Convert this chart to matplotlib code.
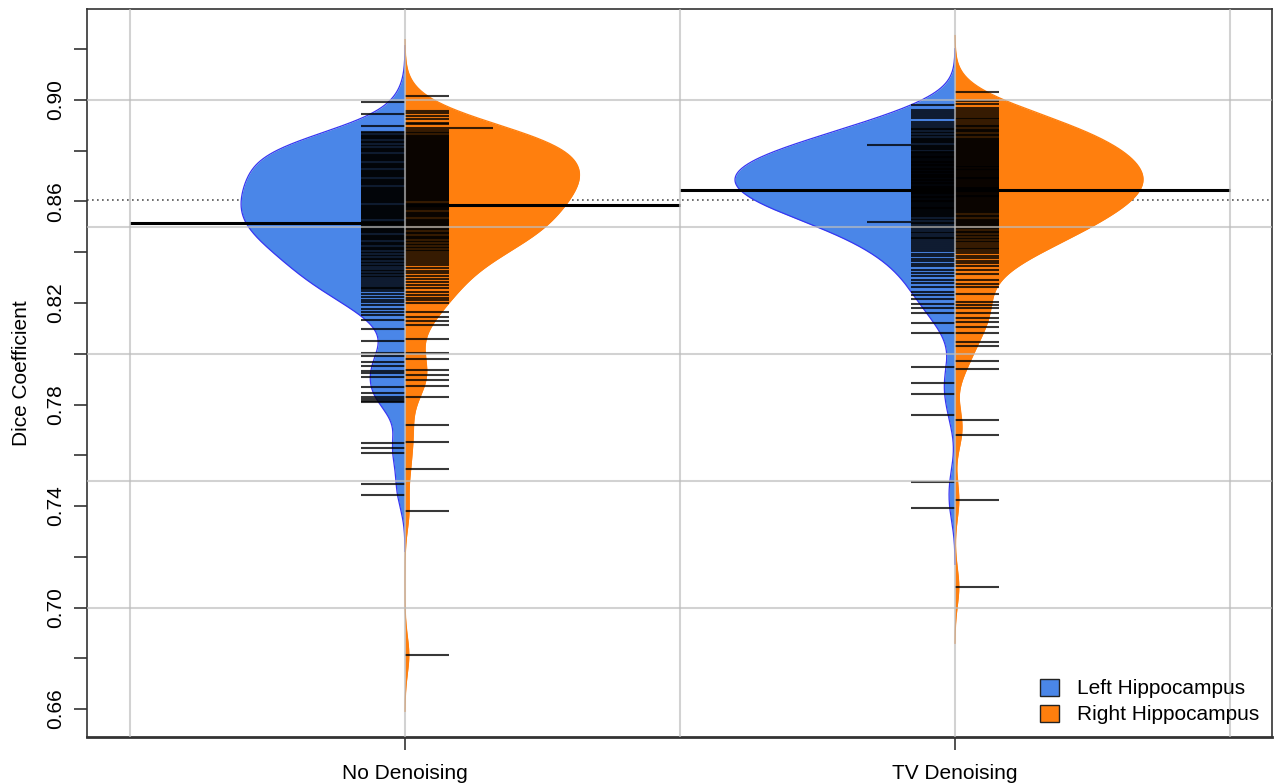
import numpy as np
import matplotlib
matplotlib.use("Agg")
import matplotlib.pyplot as plt
from matplotlib.patches import Patch

plt.rcParams['font.family'] = ['Liberation Sans', 'DejaVu Sans']

groups = ["No Denoising", "TV Denoising"]
sides = ["Left Hippocampus", "Right Hippocampus"]
fill_colors = ["#4A86E8", "#FF7F0E"]
edge_colors = ["#3636F2", "#FF7F0E"]

# Dice values (dense middle part estimated from bean width)
no_den_left = [
    0.8992, 0.8945, 0.8898,
    0.8873, 0.8868, 0.8861, 0.8857, 0.8853,
    0.8849, 0.8845, 0.8839, 0.8834, 0.8829, 0.8823, 0.8818, 0.8812, 0.8807, 0.8802,
    0.8798, 0.8794, 0.8789, 0.8785, 0.8780, 0.8775, 0.8771, 0.8766, 0.8762, 0.8758, 0.8753,
    0.8748, 0.8744, 0.8740, 0.8735, 0.8731, 0.8726, 0.8721, 0.8717, 0.8712, 0.8708, 0.8703,
    0.8699, 0.8695, 0.8690, 0.8686, 0.8682, 0.8677, 0.8673, 0.8668, 0.8664, 0.8659, 0.8655, 0.8651,
    0.8647, 0.8643, 0.8638, 0.8634, 0.8629, 0.8625, 0.8621, 0.8616, 0.8612, 0.8608, 0.8604, 0.8601,
    0.8597, 0.8593, 0.8588, 0.8584, 0.8580, 0.8575, 0.8571, 0.8566, 0.8562, 0.8558, 0.8554, 0.8551,
    0.8547, 0.8543, 0.8538, 0.8534, 0.8530, 0.8525, 0.8521, 0.8516, 0.8512, 0.8508, 0.8504, 0.8501,
    0.8496, 0.8492, 0.8487, 0.8483, 0.8478, 0.8474, 0.8469, 0.8465, 0.8460, 0.8456, 0.8452,
    0.8447, 0.8442, 0.8437, 0.8432, 0.8427, 0.8422, 0.8417, 0.8412, 0.8407, 0.8402,
    0.8396, 0.8391, 0.8385, 0.8379, 0.8374, 0.8368, 0.8362, 0.8356, 0.8351,
    0.8345, 0.8339, 0.8332, 0.8326, 0.8319, 0.8313, 0.8306, 0.8301,
    0.8294, 0.8286, 0.8278, 0.8271, 0.8263, 0.8259, 0.8255,
    0.8246, 0.8235, 0.8224, 0.8213, 0.8203,
    0.8192, 0.8178, 0.8164,
    0.8153, 0.8133, 0.8098, 0.8050, 0.8003, 0.7990, 0.7967, 0.7950, 0.7932, 0.7925,
    0.7910, 0.7869, 0.7845, 0.7830, 0.7822, 0.7815, 0.7808, 0.7648, 0.7629, 0.7610,
    0.7487, 0.7443,
]
no_den_right = [
    0.9016, 0.8957, 0.8950,
    0.8935, 0.8925, 0.8910, 0.8905,
    0.8888, 0.8888, 0.8880, 0.8874, 0.8869, 0.8863, 0.8858, 0.8853, 0.8851,
    0.8848, 0.8844, 0.8840, 0.8836, 0.8832, 0.8828, 0.8824, 0.8820, 0.8816, 0.8812, 0.8807, 0.8802,
    0.8798, 0.8794, 0.8790, 0.8786, 0.8782, 0.8778, 0.8774, 0.8770, 0.8766, 0.8762, 0.8758, 0.8754, 0.8751,
    0.8747, 0.8743, 0.8739, 0.8735, 0.8731, 0.8727, 0.8723, 0.8719, 0.8715, 0.8711, 0.8707, 0.8704, 0.8701,
    0.8697, 0.8693, 0.8689, 0.8685, 0.8681, 0.8677, 0.8673, 0.8669, 0.8665, 0.8661, 0.8657, 0.8654, 0.8651,
    0.8646, 0.8642, 0.8638, 0.8634, 0.8630, 0.8626, 0.8621, 0.8617, 0.8613, 0.8609, 0.8605, 0.8601,
    0.8596, 0.8592, 0.8587, 0.8583, 0.8578, 0.8574, 0.8569, 0.8565, 0.8560, 0.8556, 0.8552,
    0.8546, 0.8542, 0.8537, 0.8533, 0.8528, 0.8524, 0.8519, 0.8515, 0.8510, 0.8506, 0.8502,
    0.8496, 0.8491, 0.8486, 0.8481, 0.8476, 0.8471, 0.8466, 0.8461, 0.8456, 0.8452,
    0.8446, 0.8440, 0.8434, 0.8428, 0.8422, 0.8416, 0.8410, 0.8404,
    0.8397, 0.8389, 0.8381, 0.8373, 0.8365, 0.8357,
    0.8348, 0.8338, 0.8328, 0.8318, 0.8308,
    0.8296, 0.8284, 0.8272, 0.8260,
    0.8245, 0.8233, 0.8221, 0.8210,
    0.8200, 0.8165, 0.8145, 0.8130, 0.8115, 0.8058, 0.8003, 0.7980, 0.7935, 0.7915,
    0.7895, 0.7873, 0.7830, 0.7719, 0.7652, 0.7546, 0.7380, 0.6813,
]
tv_left = [
    0.8980, 0.8962, 0.8953,
    0.8945, 0.8937, 0.8928, 0.8915, 0.8905,
    0.8897, 0.8891, 0.8886, 0.8880, 0.8874, 0.8869, 0.8863, 0.8857, 0.8852,
    0.8847, 0.8843, 0.8838, 0.8834, 0.8829, 0.8823, 0.8823, 0.8818, 0.8814, 0.8809, 0.8805, 0.8801,
    0.8797, 0.8794, 0.8790, 0.8787, 0.8784, 0.8780, 0.8777, 0.8774, 0.8770, 0.8767, 0.8764, 0.8760,
    0.8757, 0.8754, 0.8751,
    0.8748, 0.8745, 0.8742, 0.8739, 0.8736, 0.8733, 0.8730, 0.8727, 0.8724, 0.8721, 0.8718, 0.8715,
    0.8712, 0.8709, 0.8706, 0.8703, 0.8701,
    0.8698, 0.8695, 0.8692, 0.8689, 0.8686, 0.8683, 0.8680, 0.8677, 0.8674, 0.8671, 0.8668, 0.8665,
    0.8662, 0.8659, 0.8656, 0.8653, 0.8651,
    0.8648, 0.8645, 0.8642, 0.8639, 0.8635, 0.8632, 0.8629, 0.8626, 0.8622, 0.8619, 0.8616, 0.8613,
    0.8609, 0.8606, 0.8603, 0.8601,
    0.8597, 0.8594, 0.8590, 0.8587, 0.8583, 0.8580, 0.8576, 0.8573, 0.8569, 0.8566, 0.8562, 0.8559,
    0.8555, 0.8552,
    0.8547, 0.8542, 0.8537, 0.8532, 0.8527, 0.8520, 0.8520, 0.8515, 0.8510, 0.8505, 0.8501,
    0.8494, 0.8488, 0.8481, 0.8475, 0.8468, 0.8462, 0.8456, 0.8451,
    0.8444, 0.8436, 0.8428, 0.8420, 0.8412, 0.8404,
    0.8395, 0.8385, 0.8375, 0.8365, 0.8355,
    0.8345, 0.8332, 0.8320, 0.8307,
    0.8290, 0.8280, 0.8265,
    0.8245, 0.8230, 0.8215,
    0.8195, 0.8180,
    0.8160, 0.8120, 0.8080, 0.7948, 0.7885, 0.7841, 0.7759, 0.7495, 0.7392,
]
tv_right = [
    0.9032, 0.8996, 0.8985, 0.8970, 0.8960,
    0.8952, 0.8945, 0.8938, 0.8931, 0.8924, 0.8917, 0.8910, 0.8903,
    0.8897, 0.8892, 0.8887, 0.8882, 0.8877, 0.8872, 0.8867, 0.8862, 0.8857, 0.8852,
    0.8848, 0.8844, 0.8840, 0.8836, 0.8832, 0.8828, 0.8824, 0.8820, 0.8816, 0.8812, 0.8807, 0.8802,
    0.8798, 0.8794, 0.8790, 0.8786, 0.8782, 0.8778, 0.8774, 0.8770, 0.8766, 0.8762, 0.8758, 0.8754, 0.8751,
    0.8748, 0.8744, 0.8741, 0.8737, 0.8734, 0.8730, 0.8727, 0.8723, 0.8720, 0.8716, 0.8712, 0.8709,
    0.8705, 0.8702,
    0.8698, 0.8694, 0.8691, 0.8687, 0.8684, 0.8680, 0.8677, 0.8673, 0.8670, 0.8666, 0.8662, 0.8659,
    0.8655, 0.8652,
    0.8648, 0.8644, 0.8641, 0.8637, 0.8634, 0.8630, 0.8627, 0.8623, 0.8620, 0.8616, 0.8612, 0.8609,
    0.8605, 0.8602,
    0.8597, 0.8593, 0.8589, 0.8585, 0.8581, 0.8577, 0.8573, 0.8569, 0.8565, 0.8561, 0.8557, 0.8553,
    0.8547, 0.8542, 0.8538, 0.8533, 0.8529, 0.8524, 0.8520, 0.8515, 0.8511, 0.8506, 0.8502,
    0.8496, 0.8491, 0.8485, 0.8480, 0.8474, 0.8469, 0.8463, 0.8458, 0.8452,
    0.8446, 0.8439, 0.8432, 0.8425, 0.8418, 0.8411, 0.8404,
    0.8396, 0.8386, 0.8376, 0.8366, 0.8356,
    0.8345, 0.8330, 0.8315,
    0.8290, 0.8275, 0.8263, 0.8235, 0.8204, 0.8192, 0.8180, 0.8160, 0.8140, 0.8125,
    0.8105, 0.8080, 0.8046, 0.8030, 0.7971, 0.7940, 0.7739, 0.7680, 0.7424, 0.7081,
]

# bean mean lines and overall mean (dotted)
left_means = [0.8515, 0.8645]
right_means = [0.8585, 0.8645]
overall_mean = 0.8606

y_ticks = [0.66, 0.68, 0.70, 0.72, 0.74, 0.76, 0.78, 0.80, 0.82, 0.84, 0.86, 0.88, 0.90, 0.92]
y_tick_labels = ["0.66", "", "0.70", "", "0.74", "", "0.78", "", "0.82", "", "0.86", "", "0.90", ""]
h_grid = [0.70, 0.75, 0.80, 0.85, 0.90]
v_grid = [0.5, 1.0, 1.5, 2.0, 2.5]

bw = 0.0074
max_half_width = 0.4
line_len = 0.08


def bean_density(vals):
    v = np.asarray(vals)
    y = np.linspace(v.min() - 3 * bw, v.max() + 3 * bw, 700)
    d = np.exp(-0.5 * ((y[:, None] - v[None, :]) / bw) ** 2).sum(axis=1)
    return y, d


data = [[no_den_left, no_den_right], [tv_left, tv_right]]
dens = [[bean_density(s) for s in g] for g in data]
dmax = max(d.max() for g in dens for _, d in g)

fig = plt.figure(figsize=(12.74, 7.83), dpi=100)
ax = fig.add_axes([87 / 1274, 46 / 783, 1185 / 1274, 728 / 783])

for gi, g in enumerate(dens):
    xc = gi + 1
    for si, (y, d) in enumerate(g):
        w = d / dmax * max_half_width
        sign = -1 if si == 0 else 1
        ax.fill_betweenx(y, xc, xc + sign * w, color=fill_colors[si], lw=0, zorder=2)
        ax.plot(xc + sign * w, y, color=edge_colors[si], lw=0.9, zorder=2.1)
        vals, counts = np.unique(np.asarray(data[gi][si]), return_counts=True)
        ax.hlines(vals, xc, xc + sign * line_len * counts, colors="black",
                  lw=1.5, alpha=0.78, zorder=3)
    ax.hlines(left_means[gi], xc - 0.5, xc, colors="black", lw=2.2, zorder=4)
    ax.hlines(right_means[gi], xc, xc + 0.5, colors="black", lw=2.2, zorder=4)

ax.axhline(overall_mean, color="#555555", lw=1.2, ls=(0, (1, 2)), zorder=1.5)

for yy in h_grid:
    ax.axhline(yy, color="#BDBDBD", lw=1.5, alpha=0.68, zorder=5)
for xx in v_grid:
    ax.axvline(xx, color="#BDBDBD", lw=1.5, alpha=0.68, zorder=5)

ax.set_xlim(0.4218, 2.5764)
ax.set_ylim(0.64897, 0.93586)
ax.set_xticks([1, 2])
ax.set_xticklabels(groups, fontsize=15)
ax.set_yticks(y_ticks)
ax.set_yticklabels(y_tick_labels, fontsize=15, rotation=90, va="center")
ax.tick_params(axis="both", direction="out", length=9.5, width=1.2, color="#333333")
ax.tick_params(axis="x", pad=10)
ax.tick_params(axis="y", pad=6)
ax.set_ylabel("Dice Coefficient", fontsize=15)
ax.yaxis.set_label_coords(-0.047, 0.5)

for name, sp in ax.spines.items():
    sp.set_color("#333333")
    sp.set_linewidth(1.2)
ax.spines["bottom"].set_linewidth(2.0)

handles = [Patch(facecolor=c, edgecolor="#222222", lw=1.0) for c in fill_colors]
ax.legend(handles, sides, loc="lower right", frameon=False, fontsize=15,
          handlelength=0.9, handleheight=0.9, handletextpad=0.9,
          labelspacing=0.3, borderaxespad=0.2, bbox_to_anchor=(1.0, 0.0))

fig.savefig("out.png", dpi=100)
